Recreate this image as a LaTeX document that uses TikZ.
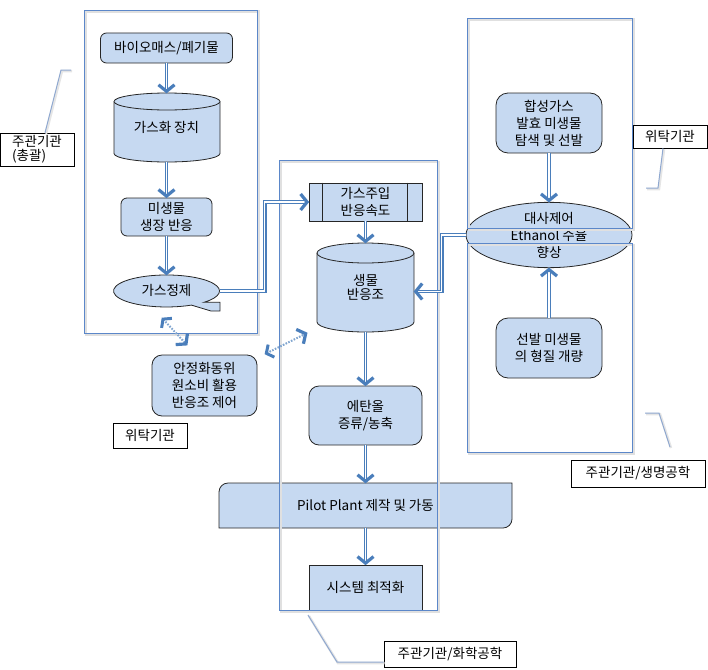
\documentclass[tikz,border=0pt]{standalone}
\usepackage{fontspec}
\setmainfont{Noto Sans CJK KR}
\usetikzlibrary{arrows.meta,shapes.geometric,calc,decorations.markings}
\definecolor{boxfill}{HTML}{C6D9F1}
\definecolor{arrowc}{HTML}{4A7EBB}
\definecolor{framec}{HTML}{5B87C9}
\definecolor{leadc}{HTML}{8FA8D0}
\newcommand\mycyl[5]{%
  \pgfmathsetmacro\rxx{(#3-#1)/2}%
  \filldraw[cylst] (#1,#2+#5) -- (#1,#4-#5) arc[start angle=180,end angle=0,x radius=\rxx,y radius=#5] -- (#3,#2+#5) arc[start angle=0,end angle=-180,x radius=\rxx,y radius=#5] -- cycle;
  \draw[cylst] (#1,#2+#5) arc[start angle=180,end angle=0,x radius=\rxx,y radius=#5];}
\newcommand\myframe[4]{%
  \draw[black!12, line width=2.2pt] (#1+1.6,#2+1.6) rectangle (#3+1.6,#4+1.6);
  \draw[framec, line width=0.8pt] (#1,#2) rectangle (#3,#4);}
\begin{document}
\begin{tikzpicture}[x=1pt,y=-1pt,
  font=\fontsize{13.5pt}{17pt}\selectfont,
  box/.style={draw=black!85, fill=boxfill, line width=0.8pt, rounded corners=6pt, align=center, inner sep=0pt},
  plain/.style={inner sep=0pt, align=center},
  cylst/.style={draw=black!85, fill=boxfill, line width=0.8pt},
  lbl/.style={draw=black, fill=white, line width=0.6pt, inner sep=0pt},
  endtip/.style={decoration={markings, mark=at position 1 with {\draw[arrowc, line width=3.2pt, solid, shorten >=0pt, shorten <=0pt, line join=miter] (-8pt,8pt) -- (-1.5pt,0pt) -- (-8pt,-8pt);}}},
  starttip/.style={decoration={markings, mark=at position 0 with {\draw[arrowc, line width=3pt, solid, shorten >=0pt, shorten <=0pt, line join=miter] (7pt,7pt) -- (1.5pt,0pt) -- (7pt,-7pt);}}},
  conn/.style={draw=arrowc, line width=3.8pt, shorten >=3pt,
     postaction={draw=white, line width=1.2pt, shorten >=3.5pt},
     postaction={endtip, decorate}},
  dotarr/.style={draw=arrowc!70, line width=2pt, dash pattern=on 1.6pt off 1.4pt, shorten >=2pt, shorten <=2pt,
     postaction={endtip, decorate}, postaction={starttip, decorate}},
  leader/.style={draw=leadc, line width=1pt, preaction={draw=black!10, line width=2.5pt, transform canvas={shift={(1pt,-1pt)}}}}
]
\useasboundingbox (0,0) rectangle (708,669);

% ---------- left column ----------
\node[box, minimum width=132pt, minimum height=30pt] (bio) at (166.5,48) {바이오매스/폐기물};
\mycyl{114}{93}{220}{162}{8.5}
\node[plain, minimum width=106pt, minimum height=69pt] (gas) at (166.5,127.5) {\raisebox{-5pt}{가스화 장치}};
\node[box, minimum width=91pt, minimum height=38pt] (mic) at (166.5,217) {미생물\\생장 반응};
\filldraw[cylst] (191.4,305.1) arc[start angle=62, end angle=405, x radius=53, y radius=16] -- (220,302.3) -- (220,311) -- (211,311) -- cycle;
\node[plain, shape=ellipse, minimum width=106pt, minimum height=32pt] (pur) at (166.5,291) {\raisebox{2pt}{가스정제}};

% ---------- middle column ----------
\node[box, rounded corners=0pt, minimum width=113pt, minimum height=38pt] (inj) at (365.5,202) {가스주입\\반응속도};
\draw[black!85, line width=0.8pt] ([xshift=14pt]inj.north west) -- ([xshift=14pt]inj.south west)
  ([xshift=-15pt]inj.north east) -- ([xshift=-15pt]inj.south east);
\mycyl{317}{243}{414}{332}{10}
\node[plain, minimum width=97pt, minimum height=89pt] (reac) at (365.5,287.5) {\raisebox{-12pt}{\shortstack{생물\\[-1pt]반응조}}};
\node[box, rounded corners=10pt, minimum width=113pt, minimum height=59pt] (eth) at (365.5,415.5) {에탄올\\증류/농축};
\node[plain, minimum width=293pt, minimum height=45pt] (pilot) at (365.5,505.5) {};
\filldraw[cylst] (219,492) arc[start angle=180, end angle=270, x radius=9, y radius=9] -- (512,483) -- (512,519)
  arc[start angle=0, end angle=90, x radius=9, y radius=9] -- (219,528) -- cycle;
\node[plain] at (pilot) {Pilot Plant 제작 및 가동};
\node[box, rounded corners=0pt, minimum width=113pt, minimum height=45pt] (sys) at (365.5,587.5) {시스템 최적화};

% ---------- right column ----------
\node[box, rounded corners=12pt, minimum width=106pt, minimum height=60pt] (syn) at (549,123) {합성가스\\발효 미생물\\탐색 및 선발};
\node[box, shape=ellipse, minimum width=166pt, minimum height=60pt] (meta) at (549,235) {대사제어\\Ethanol 수율\\향상};
\node[box, rounded corners=12pt, minimum width=106pt, minimum height=60pt] (sel) at (549,348) {선발 미생물\\의 형질 개량};

% ---------- side box ----------
\node[box, rounded corners=10pt, minimum width=105pt, minimum height=61pt] (stab) at (204.5,385.5) {안정화동위\\원소비 활용\\반응조 제어};

% ---------- frames ----------
\myframe{84}{10}{257}{333}
\myframe{279}{160}{437}{610}
\myframe{467}{18}{632}{228}
\myframe{467}{243}{632}{452}

% ---------- connectors ----------
\draw[conn] (bio.south) -- (gas.north);
\draw[conn] (gas.south) -- (mic.north);
\draw[conn] (mic.south) -- (pur.north);
\draw[conn] (pur.east) -- ++(45,0) |- (inj.west);
\draw[conn] (inj.south) -- (reac.north);
\draw[conn] (reac.south) -- (eth.north);
\draw[conn] (eth.south) -- (pilot.north);
\draw[conn] (pilot.south) -- (sys.north);
\draw[conn] (syn.south) -- (meta.north);
\draw[conn] (sel.north) -- (meta.south);
\draw[conn] (meta.west) -- ++(-24,0) |- ([yshift=-4pt]reac.east);

\coordinate (d1a) at (162,318);
\coordinate (d1b) at (187,345);
\coordinate (d2a) at (265,354);
\coordinate (d2b) at (307,333);
\draw[dotarr] (d1a) -- (d1b);
\draw[dotarr] (d2a) -- (d2b);

% ---------- callouts ----------
\node[lbl, minimum width=74pt, minimum height=33pt, align=left, font=\fontsize{13.5pt}{14pt}\selectfont] (c1) at (37,149.5) {주관기관\\(총괄)};
\node[lbl, minimum width=74pt, minimum height=23pt] (c2) at (670,136.5) {위탁기관};
\node[lbl, minimum width=134pt, minimum height=27pt] (c3) at (638,473.5) {주관기관/생명공학};
\node[lbl, minimum width=132pt, minimum height=26pt] (c4) at (450,654) {주관기관/화학공학};
\node[lbl, minimum width=74pt, minimum height=25pt] (c5) at (150,435.5) {위탁기관};

\coordinate (l1a) at (61,70);
\coordinate (l1b) at (71,70);
\coordinate (l2a) at (658,188);
\coordinate (l2b) at (646,188);
\coordinate (l3s) at (670,447);
\coordinate (l3a) at (659,413);
\coordinate (l3b) at (645,413);
\coordinate (l4s) at (308,615);
\coordinate (l4a) at (337,662);
\draw[leader] ([xshift=8pt]c1.north) -- (l1a) -- (l1b);
\draw[leader] ([xshift=-7pt]c2.south) -- (l2a) -- (l2b);
\draw[leader] (l3s) -- (l3a) -- (l3b);
\draw[leader] (l4s) -- (l4a) -- (c4.west |- l4a);
\end{tikzpicture}
\end{document}
